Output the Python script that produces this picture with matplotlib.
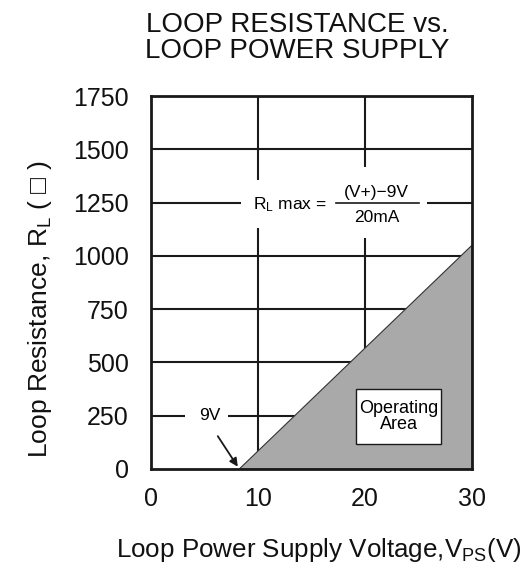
import matplotlib
matplotlib.use('Agg')
import matplotlib.pyplot as plt
from matplotlib.patches import Polygon, Rectangle

plt.rcParams['font.family'] = ['Liberation Sans', 'DejaVu Sans']
plt.rcParams['mathtext.fontset'] = 'custom'
plt.rcParams['mathtext.rm'] = 'Liberation Sans'
plt.rcParams['mathtext.it'] = 'Liberation Sans'

# datos
x_ticks = [0, 10, 20, 30]
y_ticks = [0, 250, 500, 750, 1000, 1250, 1500, 1750]
area_v = [8.25, 30, 30]       # vertices del area de operacion (V)
area_r = [0, 1050, 0]         # (ohm)
arrow_start = (6.1, 165)
arrow_end = (8.25, 0)

fig = plt.figure(figsize=(5.32, 5.69), dpi=100)
ax = fig.add_axes([151 / 532, 1 - 469 / 569, 321 / 532, 373 / 569])
ax.set_xlim(0, 30)
ax.set_ylim(0, 1750)

# rejilla
for y in y_ticks[1:-1]:
    ax.axhline(y, color='#1a1a1a', lw=1.5, zorder=1)
for x in x_ticks[1:-1]:
    ax.axvline(x, color='#1a1a1a', lw=1.5, zorder=1)

# huecos blancos para la formula
ax.add_patch(Rectangle((8.45, 1131), 7.8, 225, facecolor='white', edgecolor='none', zorder=2))
ax.add_patch(Rectangle((16.25, 1084), 9.55, 333, facecolor='white', edgecolor='none', zorder=2))
ax.text(13.0, 1240, r'R$_{\mathrm{L}}$ max =', ha='center', va='center', fontsize=12.5, zorder=3)
ax.plot([17.3, 25.0], [1250, 1250], color='#1a1a1a', lw=1.2, zorder=3)
ax.text(21.05, 1296, '(V+)\u22129V', ha='center', va='center', fontsize=12.5, zorder=3)
ax.text(21.1, 1180, '20mA', ha='center', va='center', fontsize=12.5, zorder=3)

# area de operacion
tri = Polygon(list(zip(area_v, area_r)), closed=True, facecolor='#a9a9a9',
              edgecolor='#333333', lw=0.8, zorder=4)
ax.add_patch(tri)
ax.add_patch(Rectangle((19.2, 117), 7.9, 258, facecolor='white', edgecolor='#1a1a1a',
                       lw=1, zorder=5))
ax.text(23.15, 247, 'Operating\nArea', ha='center', va='center', fontsize=13,
        linespacing=0.9, zorder=6)

# etiqueta 9V
ax.add_patch(Rectangle((3.15, 200), 4.05, 100, facecolor='white', edgecolor='none', zorder=2))
ax.text(5.45, 250, '9V', ha='center', va='center', fontsize=12.5, zorder=3)
ax.annotate('', xy=arrow_end, xytext=arrow_start, zorder=5,
            arrowprops=dict(arrowstyle='-|>', color='#1a1a1a', lw=1.3, mutation_scale=12))

for s in ax.spines.values():
    s.set_linewidth(2)
    s.set_color('#1a1a1a')
    s.set_zorder(7)

ax.set_xticks(x_ticks)
ax.set_yticks(y_ticks)
ax.tick_params(length=0, labelsize=18, colors='#111111')
ax.tick_params(axis='y', pad=16)
ax.tick_params(axis='x', pad=13)

fig.text(297 / 532, 1 - 38 / 569, 'LOOP RESISTANCE vs.\nLOOP POWER SUPPLY', ha='center', va='center',
         fontsize=20, linespacing=1.05, color='#111111')
fig.text(40 / 532, 1 - 309 / 569, r'Loop Resistance, R$_{\mathrm{L}}$ ( ' + '\u25a1' + ' )',
         rotation=90, ha='center', va='center', fontsize=19, color='#111111')
fig.text(319 / 532, 1 - 550 / 569, r'Loop Power Supply Voltage,V$_{\mathrm{PS}}$(V)', ha='center',
         va='center', fontsize=18.7, color='#111111')

fig.savefig('out.png', dpi=100)
